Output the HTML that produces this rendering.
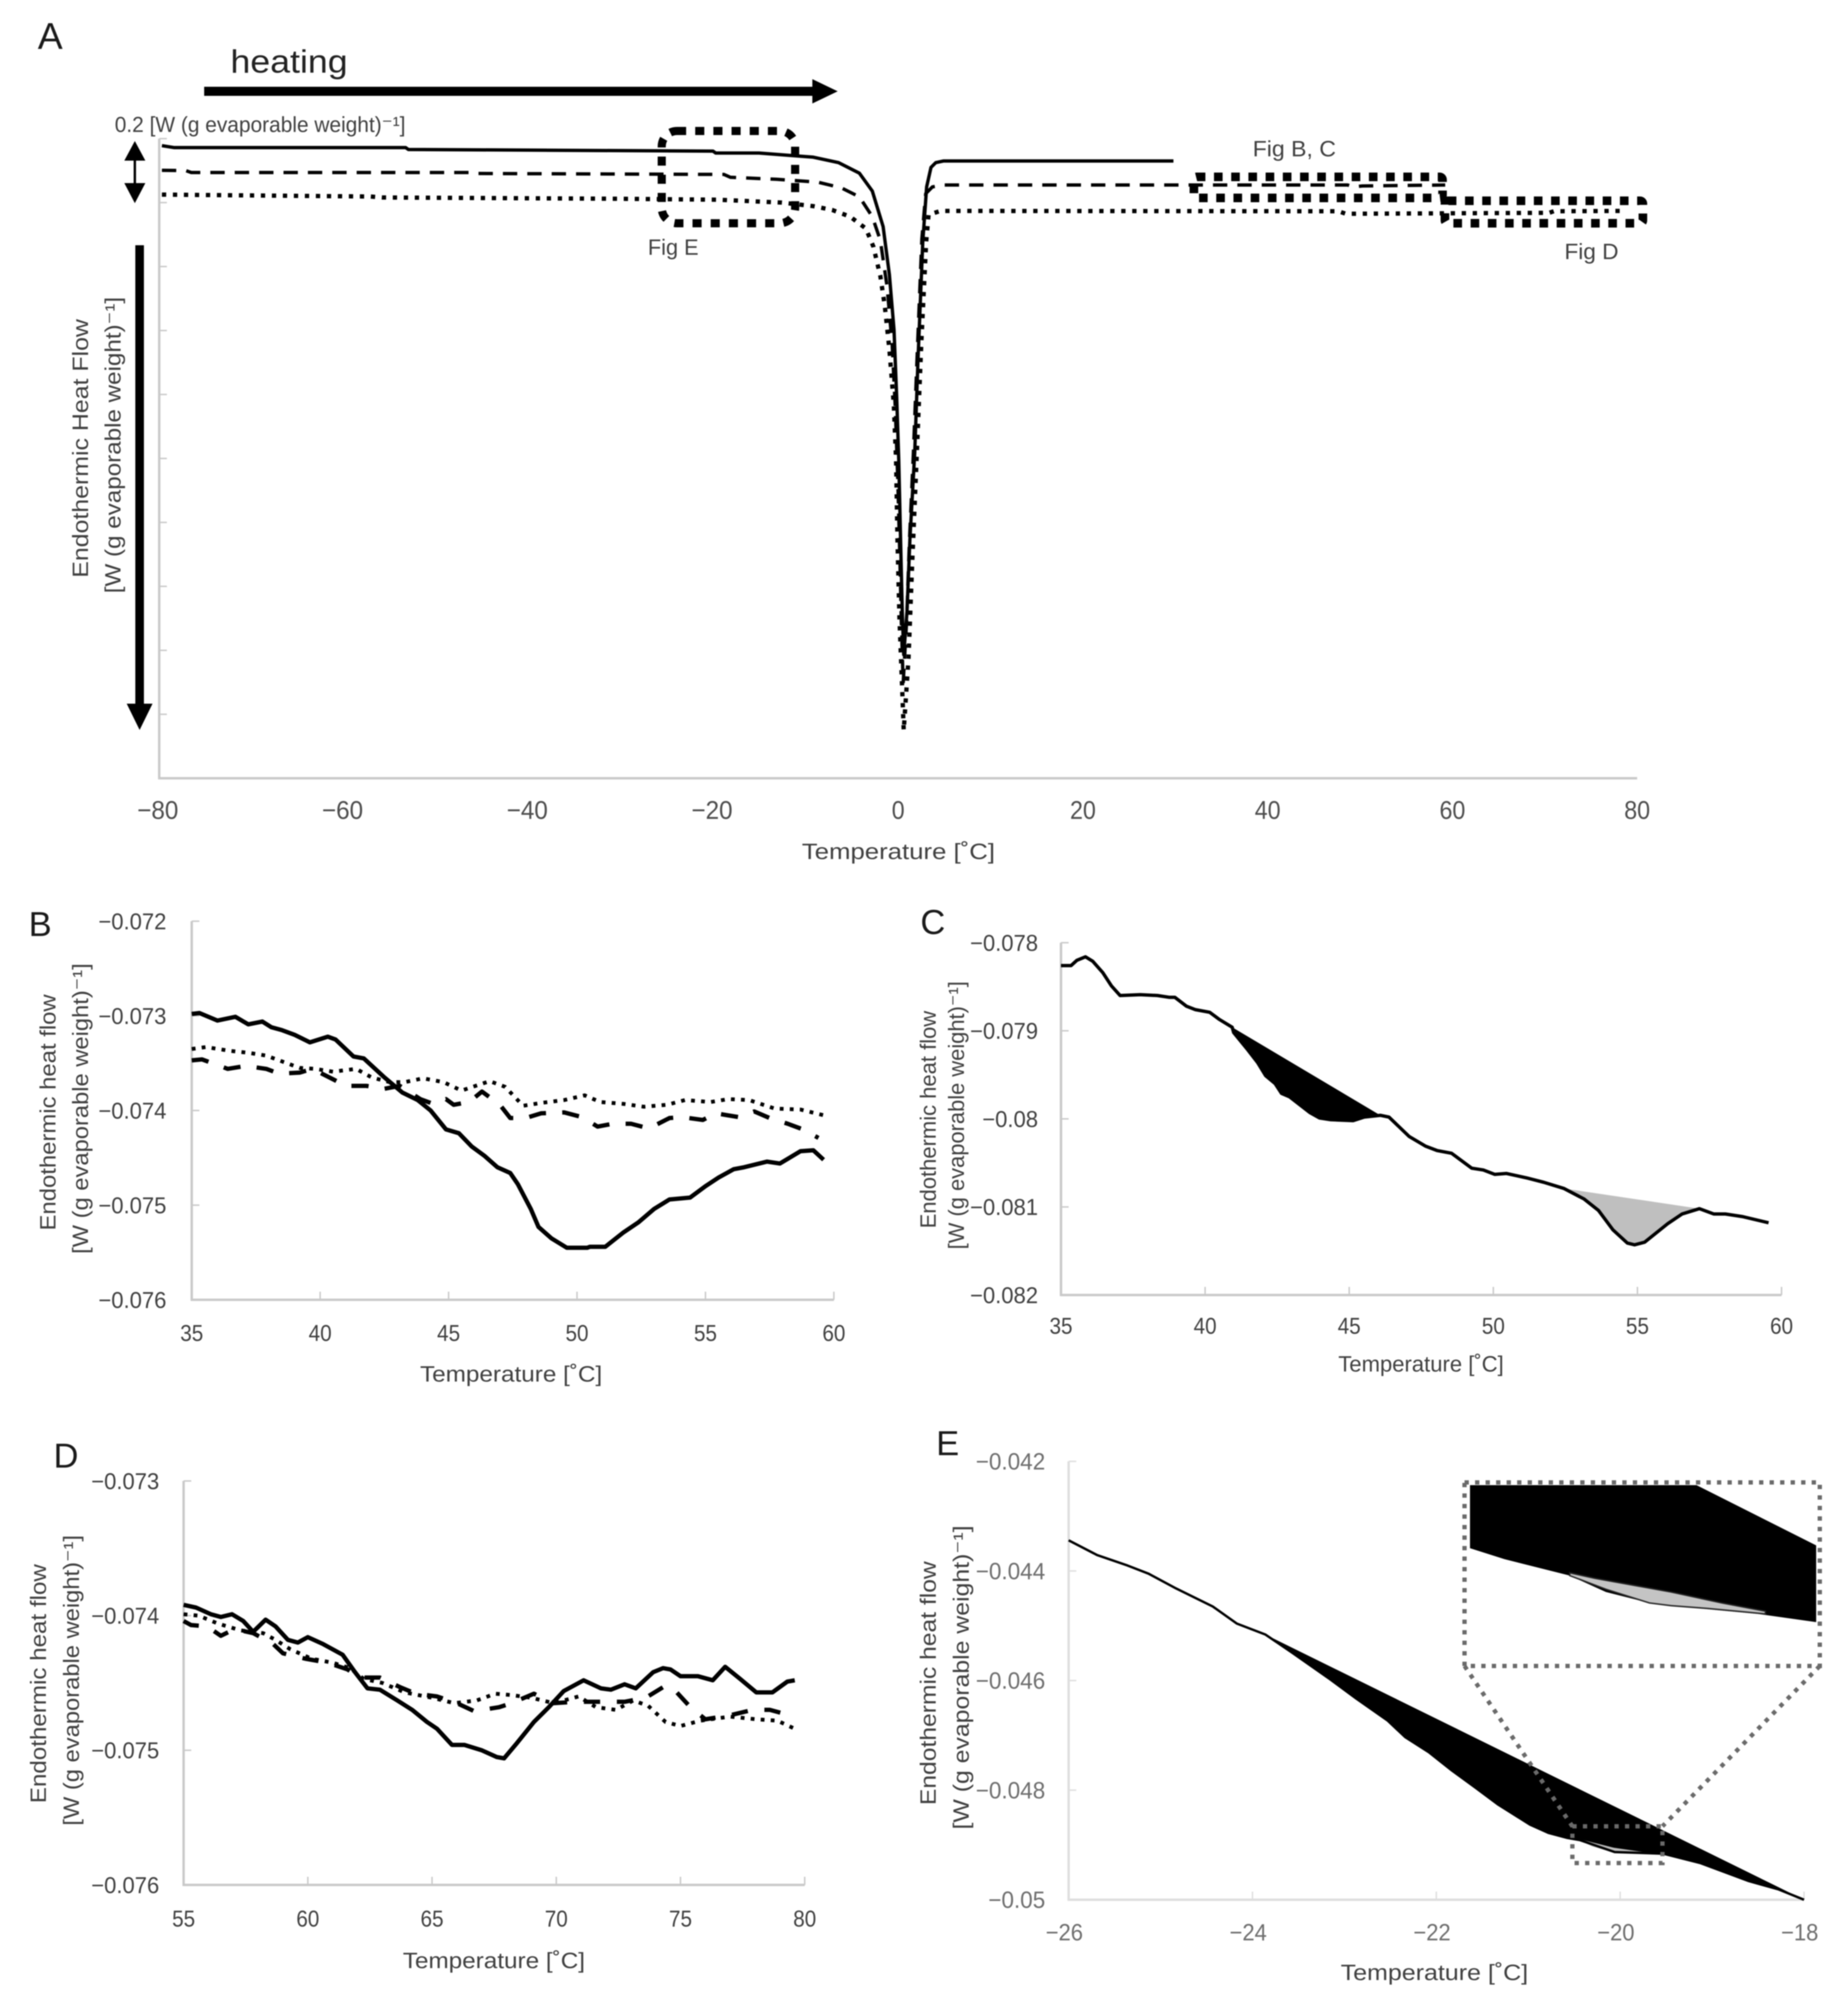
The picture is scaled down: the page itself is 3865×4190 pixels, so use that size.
<!DOCTYPE html>
<html lang="en">
<head>
<meta charset="utf-8">
<title>Endothermic heat flow thermograms</title>
<style>
html,body{margin:0;padding:0;background:#fff;}
#figure{display:block;width:3865px;height:4190px;background:#fff;filter:blur(1.1px);font-family:"Liberation Sans","DejaVu Sans",sans-serif;}
</style>
</head>
<body>
<svg id="figure" xmlns="http://www.w3.org/2000/svg" width="3865" height="4190" viewBox="0 0 3865 4190">
  <rect x="0" y="0" width="3865" height="4190" fill="#ffffff"/>
  <g id="panels"></g>
  <g id="overlay">
    <text x="79" y="102" font-size="78" fill="#1a1a1a">A</text>
    <text x="482" y="152" font-size="68" fill="#222" textLength="245" lengthAdjust="spacingAndGlyphs">heating</text>
    <path d="M427 181.500H1699V165.500L1752 191L1699 216.500V200.500H427Z" fill="#000"/>
    <text x="240" y="276" font-size="45" fill="#404040" textLength="608" lengthAdjust="spacingAndGlyphs">0.2 [W (g evaporable weight)⁻¹]</text>
    <g>
      <rect x="279.500" y="330" width="5" height="60" fill="#000"/>
      <path d="M282 295L304 336H260Z" fill="#000"/>
      <path d="M282 425L304 383H260Z" fill="#000"/>
    </g>
    <path d="M283 513H301V1472H319L292 1527L265 1472H283Z" fill="#000"/>
    <rect x="1384" y="274" width="279" height="193" rx="32" ry="32" fill="none" stroke="#000" stroke-width="17" stroke-dasharray="19 19"/>
    <text x="1355" y="533" font-size="46" fill="#404040" textLength="106" lengthAdjust="spacingAndGlyphs">Fig E</text>
    <rect x="2497" y="370" width="520" height="44" rx="6" ry="6" fill="none" stroke="#000" stroke-width="18" stroke-dasharray="18 18"/>
    <text x="2620" y="327" font-size="46" fill="#404040" textLength="174" lengthAdjust="spacingAndGlyphs">Fig B, C</text>
    <rect x="3022" y="420" width="414" height="47" rx="6" ry="6" fill="none" stroke="#000" stroke-width="18" stroke-dasharray="18 18"/>
    <text x="3272" y="542" font-size="46" fill="#404040" textLength="113" lengthAdjust="spacingAndGlyphs">Fig D</text>
  </g>
</svg>
<script>
// ===== Panel A data: temperature in deg C, heat flow in W/g =====
const aSolidX = [-79.71,-78.41,-53.32,-53.02,-20.05,-19.76,-15.07,-10.59,-9.2,-6.45,-4.2,-2.8,-1.63,-0.95,-0.45,-0.16,0.06,0.26,0.44,0.6,0.96,1.27,1.79,2.14,2.66,3.08,3.55,4.07,4.89,29.8];
const aSolidY = [-0.022,-0.028,-0.028,-0.034,-0.039,-0.045,-0.045,-0.055,-0.058,-0.075,-0.108,-0.164,-0.275,-0.425,-0.598,-0.809,-1.006,-1.254,-1.477,-1.614,-1.477,-1.254,-0.982,-0.697,-0.324,-0.151,-0.09,-0.075,-0.07,-0.07];
const aDashedX = [-79.71,-77.12,-76.52,-46.45,-45.75,-18.86,-18.16,-13.18,-8.7,-6.15,-4.2,-2.8,-1.93,-1.2,-0.65,-0.32,-0.05,0.16,0.34,0.54,0.91,1.22,1.64,2.04,2.56,2.98,3.7,4.89,48.66,49.26,50.26,59.22];
const aDashedY = [-0.099,-0.1,-0.106,-0.106,-0.109,-0.112,-0.121,-0.127,-0.136,-0.154,-0.182,-0.244,-0.318,-0.463,-0.643,-0.837,-1.061,-1.286,-1.51,-1.704,-1.51,-1.256,-0.987,-0.688,-0.314,-0.172,-0.151,-0.145,-0.145,-0.151,-0.148,-0.145];
const aDottedX = [-79.71,-57.1,-55.81,-30.11,-19.46,-12.59,-9.2,-7.15,-5.2,-3.5,-2.68,-1.93,-1.45,-0.95,-0.47,-0.23,-0.08,0.14,0.44,0.6,1.12,1.53,1.99,2.51,3.03,3.29,4.58,47.67,48.46,70.47,70.97,78.74];
const aDottedY = [-0.175,-0.181,-0.184,-0.188,-0.191,-0.2,-0.211,-0.223,-0.244,-0.281,-0.338,-0.43,-0.523,-0.659,-0.833,-1.006,-1.254,-1.502,-1.725,-1.85,-1.626,-1.317,-1.006,-0.635,-0.324,-0.238,-0.226,-0.227,-0.235,-0.232,-0.227,-0.226];
const aXTicks = [-80,-60,-40,-20,0,20,40,60,80];
const aXLabels = ['−80','−60','−40','−20','0','20','40','60','80'];
const aYTicks = [0,-0.2,-0.4,-0.6,-0.8,-1,-1.2,-1.4,-1.6,-1.8,-2];

// ===== Panel B data: heat flow in 10^-3 W/g =====
const bSolidX = [35,35.3,36,36.7,37.2,37.75,38.1,38.5,39,39.6,40.3,40.6,41.3,41.7,42.5,43.2,43.8,44.3,44.9,45.4,45.9,46.4,46.9,47.4,47.7,48.2,48.5,49,49.6,50.4,50.5,51.1,51.8,52.4,53,53.6,54.4,55,55.5,56.1,56.5,57.4,57.9,58.7,59.2,59.6];
const bSolidY = [-72.98,-72.97,-73.05,-73.01,-73.09,-73.06,-73.12,-73.15,-73.2,-73.28,-73.22,-73.25,-73.43,-73.45,-73.65,-73.81,-73.89,-74,-74.2,-74.24,-74.38,-74.48,-74.6,-74.66,-74.78,-75.04,-75.23,-75.35,-75.45,-75.45,-75.44,-75.44,-75.29,-75.18,-75.04,-74.94,-74.92,-74.8,-74.71,-74.62,-74.6,-74.54,-74.56,-74.43,-74.42,-74.52];
const bDashedX = [35,35.4,35.8,36.4,37.1,37.9,38.4,39.2,39.7,40.5,41,41.8,42.5,43.1,43.9,44.4,44.9,45.2,45.8,46.3,47,47.4,48,48.6,49.5,50.2,50.8,51.4,52.1,52.8,53.6,54.1,54.9,55.4,56.3,56.9,57.5,58.2,58.8,59.4];
const bDashedY = [-73.47,-73.46,-73.5,-73.56,-73.53,-73.56,-73.61,-73.6,-73.56,-73.67,-73.74,-73.74,-73.77,-73.74,-73.88,-73.93,-73.88,-73.94,-73.91,-73.8,-73.94,-74.08,-74.08,-74.03,-74.02,-74.07,-74.17,-74.14,-74.14,-74.19,-74.08,-74.07,-74.1,-74.03,-74.07,-74.01,-74.08,-74.14,-74.2,-74.29];
const bDottedX = [35,35.55,36.5,37.2,37.9,38.5,39.2,39.8,40.5,41.4,42,42.7,43.3,44,44.8,45.5,46.6,47.2,47.9,48.6,49.5,50.3,50.9,51.8,52.6,53.5,54.2,55.2,55.9,56.7,57.7,58.7,59.6];
const bDottedY = [-73.35,-73.33,-73.37,-73.39,-73.42,-73.48,-73.55,-73.56,-73.59,-73.56,-73.65,-73.7,-73.7,-73.66,-73.7,-73.79,-73.69,-73.75,-73.95,-73.92,-73.89,-73.84,-73.91,-73.93,-73.96,-73.94,-73.89,-73.91,-73.88,-73.89,-73.98,-73.99,-74.05];
const bXTicks = [35,40,45,50,55,60];
const bYTicks = [-72,-73,-74,-75,-76];
const bYLabels = ['−0.072','−0.073','−0.074','−0.075','−0.076'];

// ===== Panel C data =====
const cCurveX = [35,35.35,35.55,35.85,36.1,36.45,36.75,37.05,37.75,38.35,38.75,38.95,39.35,39.66,40.16,40.49,40.94,40.99,41.49,41.82,42.1,42.43,42.65,42.93,43.64,43.97,44.36,45.14,45.52,46.08,46.38,47.08,47.65,48.05,48.55,49.25,49.65,50.05,50.45,51.15,51.75,52.45,53.15,53.65,54.15,54.65,54.9,55.25,56.05,56.55,57.15,57.65,58.05,58.65,59.55];
const cCurveY = [-78.26,-78.26,-78.2,-78.16,-78.21,-78.34,-78.49,-78.6,-78.59,-78.6,-78.62,-78.62,-78.72,-78.76,-78.79,-78.87,-78.96,-79.02,-79.22,-79.36,-79.51,-79.6,-79.71,-79.75,-79.93,-79.99,-80.01,-80.02,-79.98,-79.96,-79.98,-80.2,-80.31,-80.36,-80.39,-80.56,-80.58,-80.63,-80.62,-80.67,-80.72,-80.79,-80.91,-81.04,-81.26,-81.41,-81.43,-81.4,-81.19,-81.08,-81.02,-81.08,-81.08,-81.11,-81.18];
const cBlackPeakRange = [40.94,46.08];
const cGreyPeakRange = [52.45,57.15];
const cXTicks = [35,40,45,50,55,60];
const cYTicks = [-78,-79,-80,-81,-82];
const cYLabels = ['−0.078','−0.079','−0.08','−0.081','−0.082'];

// ===== Panel D data =====
const dSolidX = [55,55.5,56.1,56.5,56.95,57.4,57.8,58.3,58.7,59.2,59.6,60,60.6,61.4,61.9,62.4,62.9,63.6,64.2,64.8,65.2,65.8,66.3,67,67.6,67.9,68.4,69.1,69.7,70.3,71.1,71.8,72.2,72.75,73.2,73.9,74.3,74.6,75,75.7,76.3,76.8,77.4,78.05,78.7,79.3,79.6];
const dSolidY = [-73.92,-73.94,-73.99,-74.01,-73.99,-74.04,-74.12,-74.03,-74.08,-74.18,-74.2,-74.16,-74.21,-74.29,-74.42,-74.54,-74.55,-74.63,-74.7,-74.79,-74.84,-74.96,-74.96,-75,-75.05,-75.06,-74.95,-74.79,-74.68,-74.56,-74.48,-74.54,-74.55,-74.51,-74.54,-74.42,-74.39,-74.4,-74.45,-74.45,-74.48,-74.38,-74.47,-74.57,-74.57,-74.49,-74.48];
const dDashedX = [55,55.3,55.95,56.5,57.05,57.8,58.6,59,59.9,60.8,61.6,62.1,62.9,63.7,64.35,65.2,66,66.7,67.7,68.2,69.1,69.9,70.8,71.6,72.75,73.6,74.4,74.85,75.4,76,77,77.9,78.6,79.6];
const dDashedY = [-74.04,-74.07,-74.08,-74.15,-74.1,-74.13,-74.21,-74.28,-74.32,-74.35,-74.4,-74.46,-74.46,-74.53,-74.58,-74.6,-74.65,-74.71,-74.68,-74.65,-74.58,-74.65,-74.64,-74.64,-74.64,-74.61,-74.52,-74.57,-74.68,-74.77,-74.74,-74.7,-74.7,-74.75];
const dDottedX = [55,55.6,56.4,57.3,58.2,58.7,59.3,60.15,61,61.7,62.25,63,63.9,65,65.9,66.8,67.55,68.2,69,69.9,70.9,71.6,72.4,73.1,73.7,74.4,75,75.8,77,78.05,78.9,79.6];
const dDottedY = [-73.99,-74,-74.06,-74.11,-74.13,-74.18,-74.25,-74.32,-74.35,-74.39,-74.47,-74.5,-74.57,-74.61,-74.65,-74.63,-74.58,-74.59,-74.61,-74.65,-74.6,-74.68,-74.7,-74.63,-74.67,-74.79,-74.82,-74.78,-74.75,-74.77,-74.78,-74.84];
const dXTicks = [55,60,65,70,75,80];
const dYTicks = [-73,-74,-75,-76];
const dYLabels = ['−0.073','−0.074','−0.075','−0.076'];

// ===== Panel E data =====
const eCurveX = [-26,-25.69,-25.36,-25.13,-24.83,-24.43,-24.17,-23.86,-23.57,-23.17,-22.87,-22.53,-22.34,-22.08,-21.84,-21.57,-21.33,-20.98,-20.78,-20.58,-20.44,-20.06,-19.53,-19.13,-18.6,-18.28,-18];
const eCurveY = [-43.44,-43.71,-43.9,-44.05,-44.32,-44.65,-44.96,-45.16,-45.49,-45.96,-46.33,-46.73,-47.03,-47.31,-47.63,-47.96,-48.26,-48.63,-48.78,-48.87,-48.91,-49.13,-49.16,-49.33,-49.66,-49.81,-50];
const eBlackPeakRange = [-23.86,-18];
const eSliverX = [-20.5,-20.07,-19.7,-19.7,-20.07,-20.3];
const eSliverY = [-48.87,-49.05,-49.14,-49.16,-49.14,-49.03];
const eZoomBoxX = [-20.52,-19.54];
const eZoomBoxY = [-48.66,-49.33];
const eXTicks = [-26,-24,-22,-20,-18];
const eXLabels = ['−26','−24','−22','−20','−18'];
const eYTicks = [-42,-44,-46,-48,-50];
const eYLabels = ['−0.042','−0.044','−0.046','−0.048','−0.05'];

// Panel E inset data (magnified region)
const insetUpperX = [-20.505,-19.88,-19.55];
const insetUpperY = [-48.67,-48.67,-48.89];
const insetLowerX = [-20.505,-20.41,-20.23,-20.13,-20.01,-19.95,-19.71,-19.55];
const insetLowerY = [-48.9,-48.94,-49,-49.06,-49.1,-49.11,-49.14,-49.17];
const insetGreyX = [-20.23,-20.16,-19.95,-19.81,-19.69,-19.69,-19.85,-19.95,-20.01,-20.13,-20.23];
const insetGreyY = [-48.99,-49.01,-49.06,-49.1,-49.13,-49.14,-49.12,-49.11,-49.1,-49.05,-49];

const SVGNS = 'http://www.w3.org/2000/svg';
const root = document.getElementById('panels');

function mk(tag, attrs, parent) {
  const el = document.createElementNS(SVGNS, tag);
  for (const k in attrs) el.setAttribute(k, attrs[k]);
  parent.appendChild(el);
  return el;
}
function scale(d0, d1, r0, r1) {
  return v => r0 + (v - d0) / (d1 - d0) * (r1 - r0);
}
function pts(xs, ys, sx, sy) {
  return xs.map((x, i) => sx(x).toFixed(1) + ',' + sy(ys[i]).toFixed(1)).join(' ');
}
function squeeze(el, factor) {
  el.setAttribute('textLength', (el.getComputedTextLength() * factor).toFixed(1));
  el.setAttribute('lengthAdjust', 'spacingAndGlyphs');
}

function drawPanel(c) {
  const g = mk('g', {}, root);
  
  
  const AXIS = c.axisColor || '#c9c9c9';

  if (c.letter) {
    const letter = mk('text', {x: c.letter[0], y: c.letter[1], 'font-size': 72, fill: '#1a1a1a'}, g);
    letter.textContent = c.id.toUpperCase();
    
    
  }

  const sx = scale(c.xDom[0], c.xDom[1], c.left, c.right);
  const sy = scale(c.yDom[0], c.yDom[1], c.top, c.bottom);

  const yAxis = mk('line', {x1: c.left, x2: c.left, y1: c.top, y2: c.bottom + 2, stroke: AXIS, 'stroke-width': 5}, g);
  
  
  const xAxis = mk('line', {x1: c.left - 2, x2: c.right, y1: c.bottom, y2: c.bottom, stroke: AXIS, 'stroke-width': 5}, g);
  
  

  c.yTicks.forEach((v, i) => {
    const t = mk('line', {x1: c.left, x2: c.left + 16, y1: sy(v), y2: sy(v), stroke: AXIS, 'stroke-width': 3}, g);
    
    
    if (c.yLabels) {
      const l = mk('text', {x: c.yLabelX, y: sy(v), dy: '0.35em', 'text-anchor': 'end', 'font-size': c.fs, fill: c.labelColor}, g);
      l.textContent = c.yLabels[i];
      
      
      squeeze(l, 0.96);
    }
  });

  c.xTicks.forEach((v, i) => {
    if (c.xTickMarks) {
      const t = mk('line', {x1: sx(v), x2: sx(v), y1: c.bottom, y2: c.bottom - 17, stroke: AXIS, 'stroke-width': 3}, g);
      
      
    }
    const text = c.xLabels ? c.xLabels[i] : String(v);
    const neg = text.charAt(0) === '−';
    const l = mk('text', {x: sx(v) + (neg ? (c.negShift || 0) : 0), y: c.xLabelY, dy: '0.35em', 'text-anchor': 'middle', 'font-size': c.fs, fill: c.labelColor}, g);
    l.textContent = text;
    
    
    squeeze(l, neg ? 0.94 : 0.9);
  });

  const xt = mk('text', {x: c.xTitle[0], y: c.xTitle[1], dy: '0.35em', 'text-anchor': 'middle', 'font-size': 46, fill: '#404040', textLength: c.xTitle[2], lengthAdjust: 'spacingAndGlyphs'}, g);
  xt.textContent = 'Temperature [˚C]';
  
  

  const y1 = mk('text', {x: c.yTitle1[0], y: c.yTitle1[1], dy: '0.35em', 'text-anchor': 'middle', 'font-size': 46, fill: '#404040', textLength: c.yTitle1[2], lengthAdjust: 'spacingAndGlyphs', transform: 'rotate(-90 ' + c.yTitle1[0] + ' ' + c.yTitle1[1] + ')'}, g);
  y1.textContent = c.yText;
  
  

  const y2 = mk('text', {x: c.yTitle2[0], y: c.yTitle2[1], dy: '0.35em', 'text-anchor': 'middle', 'font-size': 46, fill: '#404040', textLength: c.yTitle2[2], lengthAdjust: 'spacingAndGlyphs', transform: 'rotate(-90 ' + c.yTitle2[0] + ' ' + c.yTitle2[1] + ')'}, g);
  y2.textContent = '[W (g evaporable weight)⁻¹]';
  
  

  return {g, sx, sy};
}

function drawLine(p, xs, ys, style, name) {
  const el = mk('polyline', Object.assign({points: pts(xs, ys, p.sx, p.sy), fill: 'none', stroke: '#000', 'stroke-linejoin': 'round'}, style), p.g);
  
  
  return el;
}

function peakFill(p, xs, ys, range, color, name) {
  const fx = [], fy = [];
  xs.forEach((x, i) => { if (x >= range[0] && x <= range[1]) { fx.push(x); fy.push(ys[i]); } });
  const el = mk('polygon', {points: pts(fx, fy, p.sx, p.sy), fill: color, stroke: 'none'}, p.g);
  
  
}

const yTextLower = 'Endothermic heat flow';

// ---- Panel A ----
const pA = drawPanel({
  id: 'a', left: 333, right: 3424, top: 290, bottom: 1628,
  xDom: [-80, 80], yDom: [0, -2], xTicks: aXTicks, xLabels: aXLabels, yTicks: aYTicks,
  xLabelY: 1694, negShift: -3, fs: 54, labelColor: '#4d4d4d', xTickMarks: false,
  xTitle: [1879, 1781, 404], yTitle1: [168, 938, 541], yTitle2: [236, 931, 620],
  yText: 'Endothermic Heat Flow'
});
drawLine(pA, aSolidX, aSolidY, {'stroke-width': 7}, 'panel-a-solid-curve');
drawLine(pA, aDashedX, aDashedY, {'stroke-width': 7, 'stroke-dasharray': '30 21'}, 'panel-a-dashed-curve');
drawLine(pA, aDottedX, aDottedY, {'stroke-width': 9, 'stroke-dasharray': '9 14'}, 'panel-a-dotted-curve');

// ---- Panel B ----
const pB = drawPanel({
  id: 'b', letter: [60, 1958], left: 401, right: 1744, top: 1927, bottom: 2719,
  xDom: [35, 60], yDom: [-72, -76], xTicks: bXTicks, yTicks: bYTicks, yLabels: bYLabels,
  yLabelX: 348, xLabelY: 2788, fs: 48, labelColor: '#404040', xTickMarks: true,
  xTitle: [1069, 2874, 381], yTitle1: [100, 2327, 494], yTitle2: [168, 2319, 608],
  yText: yTextLower
});
drawLine(pB, bSolidX, bSolidY, {'stroke-width': 9}, 'panel-b-solid-curve');
drawLine(pB, bDashedX, bDashedY, {'stroke-width': 9, 'stroke-dasharray': '36 34'}, 'panel-b-dashed-curve');
drawLine(pB, bDottedX, bDottedY, {'stroke-width': 8, 'stroke-dasharray': '8 13'}, 'panel-b-dotted-curve');

// ---- Panel C ----
const pC = drawPanel({
  id: 'c', letter: [1925, 1954], left: 2219, right: 3726, top: 1972, bottom: 2709,
  xDom: [35, 60], yDom: [-78, -82], xTicks: cXTicks, yTicks: cYTicks, yLabels: cYLabels,
  yLabelX: 2171, xLabelY: 2773, fs: 48, labelColor: '#404040', xTickMarks: true,
  xTitle: [2972, 2853, 346], yTitle1: [1941, 2342, 455], yTitle2: [2000, 2333, 561],
  yText: yTextLower
});
peakFill(pC, cCurveX, cCurveY, cBlackPeakRange, '#000', 'panel-c-black-peak-area');
peakFill(pC, cCurveX, cCurveY, cGreyPeakRange, '#bfbfbf', 'panel-c-grey-peak-area');
drawLine(pC, cCurveX, cCurveY, {'stroke-width': 7}, 'panel-c-curve');

// ---- Panel D ----
const pD = drawPanel({
  id: 'd', letter: [112, 3070], left: 384, right: 1683, top: 3098, bottom: 3943,
  xDom: [55, 80], yDom: [-73, -76], xTicks: dXTicks, yTicks: dYTicks, yLabels: dYLabels,
  yLabelX: 333, xLabelY: 4013, fs: 48, labelColor: '#404040', xTickMarks: true,
  xTitle: [1033, 4101, 381], yTitle1: [80, 3522, 500], yTitle2: [149, 3515, 608],
  yText: yTextLower
});
drawLine(pD, dSolidX, dSolidY, {'stroke-width': 9}, 'panel-d-solid-curve');
drawLine(pD, dDashedX, dDashedY, {'stroke-width': 9, 'stroke-dasharray': '34 35'}, 'panel-d-dashed-curve');
drawLine(pD, dDottedX, dDottedY, {'stroke-width': 8, 'stroke-dasharray': '8 13'}, 'panel-d-dotted-curve');

// ---- Panel E ----
const pE = drawPanel({
  id: 'e', letter: [1958, 3044], left: 2235, right: 3773, top: 3057, bottom: 3974,
  xDom: [-26, -18], yDom: [-42, -50], xTicks: eXTicks, xLabels: eXLabels, yTicks: eYTicks, yLabels: eYLabels,
  yLabelX: 2186, xLabelY: 4042, negShift: -9, fs: 49, labelColor: '#6e6e6e', axisColor: '#dedede', xTickMarks: true,
  xTitle: [3000, 4126, 392], yTitle1: [1941, 3521, 510], yTitle2: [2010, 3509, 636],
  yText: yTextLower
});
peakFill(pE, eCurveX, eCurveY, eBlackPeakRange, '#000', 'panel-e-black-peak-area');
const eSliver = mk('polygon', {points: pts(eSliverX, eSliverY, pE.sx, pE.sy), fill: '#bdbdbd'}, pE.g);


drawLine(pE, eCurveX, eCurveY, {'stroke-width': 5}, 'panel-e-curve');

// Inset magnifying the dotted box
const INSET = {left: 3063, right: 3806, top: 3101, bottom: 3485};
const ix = scale(eZoomBoxX[0], eZoomBoxX[1], INSET.left, INSET.right);
const iy = scale(eZoomBoxY[0], eZoomBoxY[1], INSET.top, INSET.bottom);
const insetBlackX = insetUpperX.concat(insetLowerX.slice().reverse());
const insetBlackY = insetUpperY.concat(insetLowerY.slice().reverse());
const insetBlack = mk('polygon', {points: pts(insetBlackX, insetBlackY, ix, iy), fill: '#000'}, pE.g);


const insetGrey = mk('polygon', {points: pts(insetGreyX, insetGreyY, ix, iy), fill: '#c4c4c4', stroke: '#222', 'stroke-width': 3}, pE.g);



const DOT = {fill: 'none', stroke: '#6a6a6a', 'stroke-width': 9, 'stroke-dasharray': '9 13'};
const insetBox = mk('rect', Object.assign({x: INSET.left, y: INSET.top, width: INSET.right - INSET.left, height: INSET.bottom - INSET.top}, DOT), pE.g);



const bx0 = pE.sx(eZoomBoxX[0]), bx1 = pE.sx(eZoomBoxX[1]);
const by0 = pE.sy(eZoomBoxY[0]), by1 = pE.sy(eZoomBoxY[1]);
const zoomBox = mk('rect', Object.assign({x: bx0, y: by0, width: bx1 - bx0, height: by1 - by0}, DOT), pE.g);


const connL = mk('line', Object.assign({x1: INSET.left, y1: INSET.bottom, x2: bx0, y2: by0}, DOT), pE.g);


const connR = mk('line', Object.assign({x1: INSET.right, y1: INSET.bottom, x2: bx1, y2: by0}, DOT), pE.g);


</script>
</body>
</html>
